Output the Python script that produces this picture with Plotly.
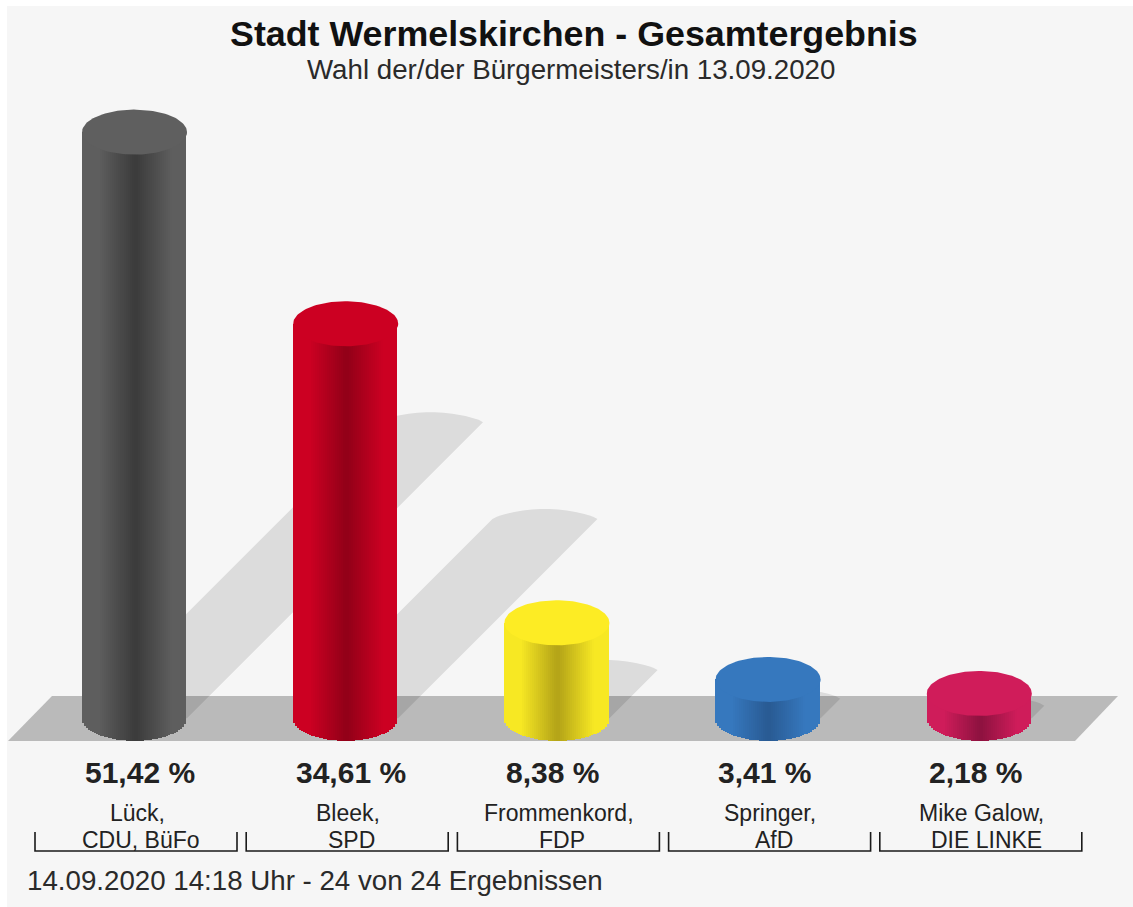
import numpy as np
import plotly.graph_objects as go

# ---- data ----
names = ["Lück,", "Bleek,", "Frommenkord,", "Springer,", "Mike Galow,"]
parties = ["CDU, BüFo", "SPD", "FDP", "AfD", "DIE LINKE"]
values = [51.42, 34.61, 8.38, 3.41, 2.18]
value_labels = ["51,42 %", "34,61 %", "8,38 %", "3,41 %", "2,18 %"]
top_colors = ["#5f5f5f", "#cc0022", "#fdec24", "#3678be", "#d01c5a"]
edge_colors = ["#5e5e5e", "#cc0022", "#f7e823", "#3678be", "#cf1c5a"]
dark_colors = ["#3c3c3c", "#930018", "#b5a518", "#295b94", "#8f1240"]
title = "Stadt Wermelskirchen - Gesamtergebnis"
subtitle = "Wahl der/der Bürgermeisters/in 13.09.2020"
footer = "14.09.2020 14:18 Uhr - 24 von 24 Ergebnissen"

# ---- page geometry ----
W, H = 1133, 907
X0, XSTEP = 134.5, 211.2      # px of first category, px per category
Y0, YSCALE = 718.3, 11.4      # px of value 0, px per percent
RX, RY = 52.5, 22.5           # cylinder ellipse radii in px
FONT = "Liberation Sans"
value_shift = [5.5, 5.5, -4.5, -4, -4]
name_shift = [3, 2.5, 2, 2, 2.5]
party_shift = [6, 5.5, 5.5, 6, 7]

ux = 1 / XSTEP
uy = 1 / YSCALE
x_range = [(0 - X0) * ux, (W - X0) * ux]
y_range = [(Y0 - H) * uy, Y0 * uy]


def mix(c1, c2, f):
    a = [int(c1[i:i + 2], 16) for i in (1, 3, 5)]
    b = [int(c2[i:i + 2], 16) for i in (1, 3, 5)]
    return "rgb(%d,%d,%d)" % tuple(round(p + (q - p) * f) for p, q in zip(a, b))


fig = go.Figure()

# cast shadows
shapes = []
for i, v in enumerate(values):
    d = 0.505 * v * YSCALE  # shadow reach in px
    xl, xr = i - RX * ux, i + RX * ux
    dx = d * ux
    dy = d * uy
    pts = [(xl, 0), (xl + dx, dy)]
    for t in np.linspace(0, 1, 25)[1:]:
        pts.append((xl + dx + (xr - xl) * t,
                    dy + 10 * uy * np.sin(np.pi * t) ** 0.7))
    pts.append((xr, 0))
    path = "M " + " L ".join(f"{a:.4f},{b:.4f}" for a, b in pts) + " Z"
    shapes.append(dict(type="path", path=path, xref="x", yref="y", layer="below",
                       fillcolor="rgba(0,0,0,0.105)", line=dict(width=0)))

# floor
fl = [(52, 696), (1118, 696), (1075, 741), (8, 741)]
shapes.insert(0, dict(type="path", xref="paper", yref="paper", layer="below",
                      path="M " + " L ".join(f"{a / W:.5f},{1 - b / H:.5f}" for a, b in fl) + " Z",
                      fillcolor="#bababa", line=dict(width=0)))
# panel
shapes.insert(0, dict(type="rect", xref="paper", yref="paper", layer="below",
                      x0=7 / W, x1=1, y0=0, y1=1 - 6 / H,
                      fillcolor="#f6f6f6", line=dict(width=0)))

# brackets
for i in range(len(values)):
    cx = i + 1.5 * ux
    hw = 101 * ux
    top, bot = (Y0 - 832) * uy, (Y0 - 851) * uy
    shapes.append(dict(type="path", xref="x", yref="y", layer="above",
                       path=f"M {cx - hw:.4f},{top:.4f} L {cx - hw:.4f},{bot:.4f} "
                            f"L {cx + hw:.4f},{bot:.4f} L {cx + hw:.4f},{top:.4f}",
                       line=dict(color="#1a1a1a", width=1.6)))

# cylinders: bodies as thin bars, tops as filled ellipses
strip = 2.0
offs = np.arange(-RX + strip / 2, RX, strip)
for i, v in enumerate(values):
    t = np.abs(offs - 1) / RX
    shade = np.clip(1 - (t - 0.03) / 0.67, 0, 1)
    cols = [mix(edge_colors[i], dark_colors[i], s) for s in shade]
    lower = -RY * np.sqrt(np.clip(1 - (offs / RX) ** 2, 0, 1)) * uy
    fig.add_trace(go.Bar(
        x=i + offs * ux, y=v - lower, base=lower,
        width=(strip + 0.4) * ux,
        marker=dict(color=cols, line=dict(width=0)),
        hoverinfo="skip", showlegend=False))

theta = np.linspace(0, 2 * np.pi, 120)
for i, v in enumerate(values):
    fig.add_trace(go.Scatter(
        x=i + RX * ux * np.cos(theta), y=v + RY * uy * np.sin(theta),
        mode="lines", fill="toself", fillcolor=top_colors[i],
        line=dict(width=0, color=top_colors[i]),
        hoverinfo="skip", showlegend=False))

# text
ann = [
    dict(text=f"<b>{title}</b>", x=574 / W, y=1 - 34 / H, size=35.8, color="#111111"),
    dict(text=subtitle, x=571.5 / W, y=1 - 70 / H, size=27.7, color="#2a2a2a"),
    dict(text=footer, x=315 / W, y=1 - 880 / H, size=27.7, color="#2a2a2a"),
]
for i in range(len(values)):
    ann.append(dict(text=f"<b>{value_labels[i]}</b>", x=(X0 + XSTEP * i + value_shift[i]) / W,
                    y=1 - 772 / H, size=30, color="#222222"))
    ann.append(dict(text=names[i], x=(X0 + XSTEP * i + name_shift[i]) / W, y=1 - 813 / H, size=23,
                    color="#222222"))
    ann.append(dict(text=parties[i], x=(X0 + XSTEP * i + party_shift[i]) / W, y=1 - 840 / H, size=23,
                    color="#222222"))

fig.update_layout(
    width=W, height=H, autosize=False,
    margin=dict(l=0, r=0, t=0, b=0, pad=0),
    paper_bgcolor="white", plot_bgcolor="rgba(0,0,0,0)",
    barmode="overlay", bargap=0, showlegend=False,
    xaxis=dict(range=x_range, visible=False, fixedrange=True),
    yaxis=dict(range=y_range, visible=False, fixedrange=True),
    shapes=shapes,
    annotations=[dict(text=a["text"], x=a["x"], y=a["y"], xref="paper", yref="paper",
                      xanchor="center", yanchor="middle", showarrow=False,
                      font=dict(family=FONT, size=a["size"], color=a["color"])) for a in ann],
)

fig.write_html("out.html", config={"displayModeBar": False},
               post_script="document.body.style.margin='0';")
